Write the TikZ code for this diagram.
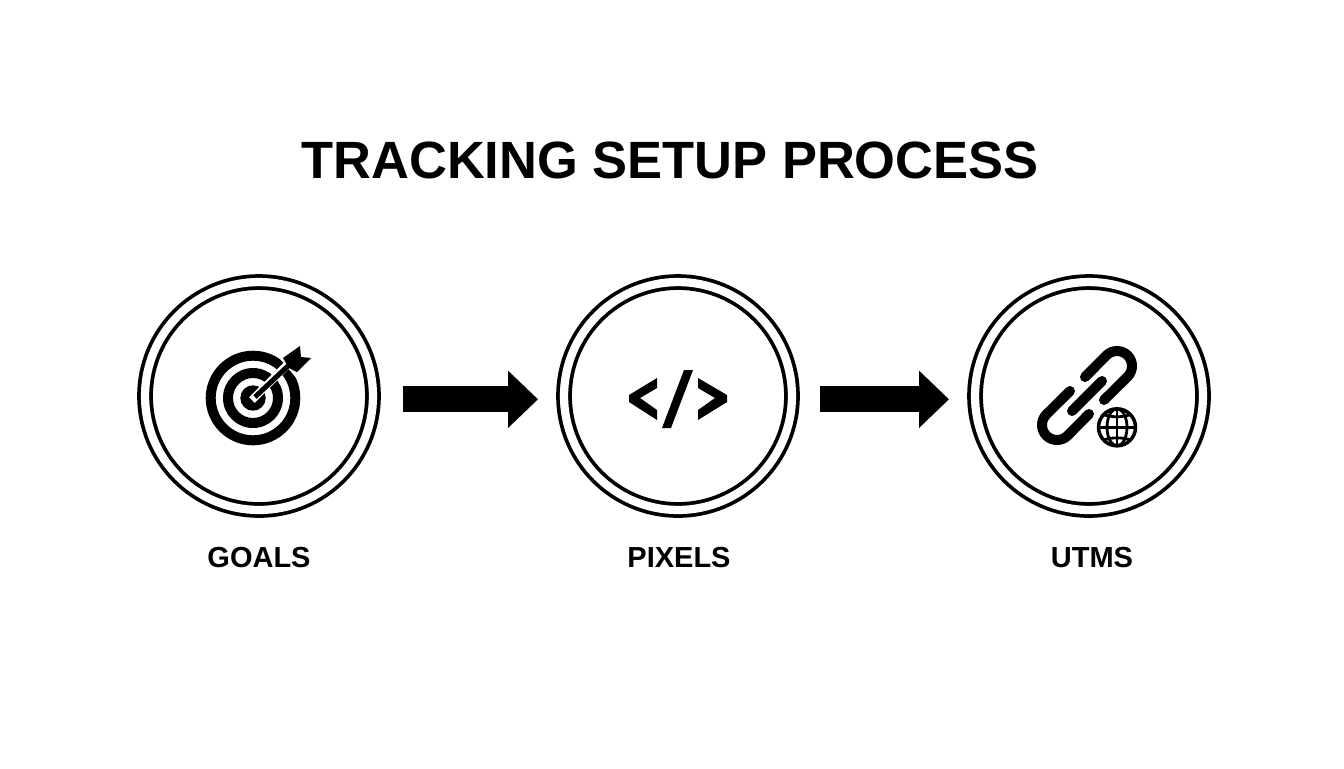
\documentclass[tikz,border=0pt]{standalone}
\usepackage{fontspec}
\setmainfont{Liberation Sans}
\usetikzlibrary{arrows.meta}
\tikzset{
ringnode/.style={circle,draw,line width=0.075cm,double,double distance=0.165cm,minimum size=4.56cm,inner sep=0pt,outer sep=0pt},
titletext/.style={font=\fontsize{29.85}{36}\selectfont\bfseries,inner sep=0pt},
steptext/.style={font=\fontsize{16.5}{20}\selectfont\bfseries,inner sep=0pt},
flowarrow/.style={line width=0.52cm,-{Triangle[length=0.6cm,width=1.11cm]}},
linkline/.style={line width=0.2cm,line cap=round},
globeline/.style={line width=0.056cm}
}
\begin{document}
\begin{tikzpicture}[x=0.02cm,y=-0.02cm]
\useasboundingbox (0,0) rectangle (1344,768);
\node[titletext] (title) at (670,160) {TRACKING SETUP PROCESS};
\node[ringnode] (goals) at (259,396) {};
\node[ringnode] (pixels) at (678,396) {};
\node[ringnode] (utms) at (1089,396) {};
\node[steptext] (goalstext) at (259,558) {GOALS};
\node[steptext] (pixelstext) at (679,558) {PIXELS};
\node[steptext] (utmstext) at (1092,558) {UTMS};
\draw[flowarrow,transform canvas={yshift=-0.066cm},shorten <=0.6cm,shorten >=0.52cm] (goals) -- (pixels);
\draw[flowarrow,transform canvas={yshift=-0.066cm},shorten <=0.56cm,shorten >=0.52cm] (pixels) -- (utms);
\fill[even odd rule] (253,398) circle (47.3) circle (37.3);
\fill[even odd rule] (253,398) circle (30) circle (20);
\fill (253,398) circle (12.7);
\draw[white,line width=0.16cm] (252,400) -- (287,365);
\fill[white] (276,354) -- (300,340) -- (318,362) -- (298,380) -- cycle;
\fill (283,358) -- (300,346) -- (301,357) -- (311,358) -- (297,372) -- (289,368) -- cycle;
\draw[line width=0.1cm] (255,397) -- (289,365);
\fill (629,395) -- (657,378) -- (657,388) -- (640,398) -- (657,410) -- (657,420) -- (629,402) -- cycle;
\fill (727,395) -- (698,378) -- (698,388) -- (715,398) -- (698,410) -- (698,420) -- (727,402) -- cycle;
\fill (684,370) -- (693,370) -- (671,428) -- (662,428) -- cycle;
\draw[linkline] (1085,377) -- (1106.4,355.4) arc[start angle=225,end angle=405,radius=15] -- (1104,400);
\draw[linkline] (1089,414) -- (1067.6,435.6) arc[start angle=45,end angle=225,radius=15] -- (1070,391);
\draw[linkline] (1072,411) -- (1102,381);
\fill[white] (1117,427.3) circle (24);
\draw[line width=0.07cm] (1117,427.3) circle (18.5);
\draw[globeline] (1117,427.3) ellipse (10 and 18.5);
\draw[globeline] (1117,408.8) -- (1117,445.8);
\draw[globeline] (1098.5,427.3) -- (1135.5,427.3);
\draw[globeline] (1103,414.5) .. controls (1112,417.5) and (1122,417.5) .. (1131,414.5);
\draw[globeline] (1103,440.1) .. controls (1112,437.1) and (1122,437.1) .. (1131,440.1);
\end{tikzpicture}
\end{document}
